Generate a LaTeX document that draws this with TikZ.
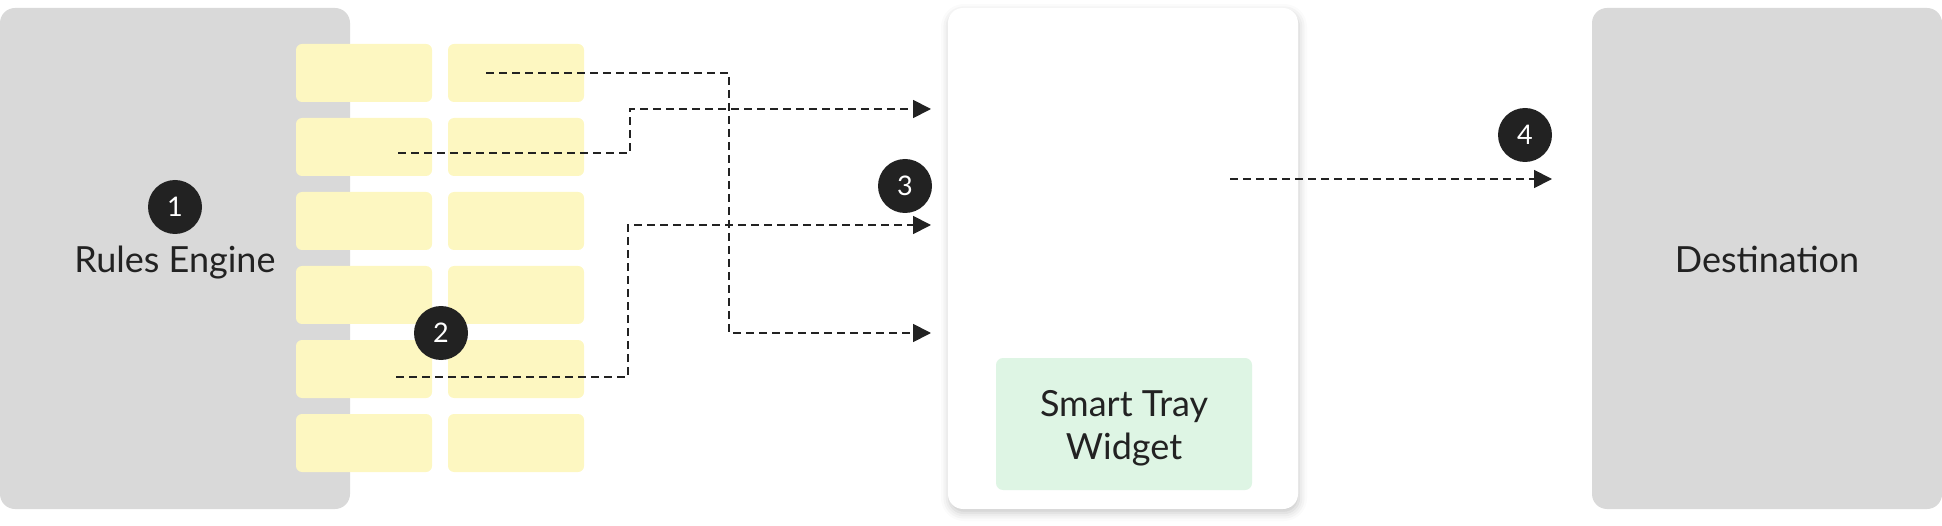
\documentclass[tikz,border=0pt]{standalone}
\usepackage{fontspec}
\setmainfont{Lato}
\usepackage{tikz}
\definecolor{boxgray}{RGB}{217, 217, 217}
\definecolor{cellyellow}{RGB}{253, 247, 193}
\definecolor{traygreen}{RGB}{222, 245, 228}
\definecolor{badgeblack}{RGB}{34, 34, 34}
\definecolor{inkgray}{RGB}{34, 34, 34}
\usetikzlibrary{positioning}
\usetikzlibrary{arrows.meta}
\usetikzlibrary{shadows.blur}

\begin{document}
\begin{tikzpicture}[
  panel/.style={rectangle, rounded corners=15pt, minimum width=350pt, minimum height=501pt, inner sep=0pt},
  cell/.style={rectangle, rounded corners=6pt, fill=cellyellow, minimum width=136pt, minimum height=58pt, inner sep=0pt},
  badge/.style={circle, fill=badgeblack, minimum size=54pt, inner sep=0pt, text=white, font=\fontsize{27pt}{30pt}\selectfont},
  bigtext/.style={text=inkgray, font=\fontsize{36pt}{43pt}\selectfont, inner sep=0pt},
  flow/.style={line width=1.8pt, color=inkgray, dash pattern=on 8pt off 5pt, -{Triangle[length=18pt, width=18pt]}}
]
\useasboundingbox (0pt, 0pt) rectangle (1942pt, -526pt);
% three big panels
\node (rules) [panel, fill=boxgray] at (175pt, -258.5pt) {};
\node (widget) [panel, fill=white, blur shadow={shadow xshift=1pt, shadow yshift=-4pt, shadow blur radius=8pt, shadow opacity=22}] at (1123pt, -258.5pt) {};
\node (dest) [panel, fill=boxgray] at (1767pt, -258.5pt) {};
% rule cells
\foreach \r in {0,...,5} {
  \node (c\r a) [cell] at (364pt, -73pt-74pt*\r) {};
  \node (c\r b) [cell] at (516pt, -73pt-74pt*\r) {};
}
\node (tray) [rectangle, rounded corners=7pt, fill=traygreen, minimum width=256pt, minimum height=132pt] at (1124pt, -424pt) {};
\node (rulestxt) [bigtext, anchor=base] at (175pt, -273pt) {Rules Engine};
\node (desttxt) [bigtext, anchor=base] at (1767pt, -273pt) {Destination};
\node (traytxt) [bigtext, align=center] at (1124pt, -428pt) {Smart Tray\\Widget};
% connectors
\coordinate (sA) at (486pt, -73pt);
\coordinate (sB) at (398pt, -153pt);
\coordinate (sC) at (396pt, -377pt);
\coordinate (sD) at (1230pt, -179pt);
\coordinate (tA) at (931pt, -333pt);
\coordinate (tB) at (931pt, -109pt);
\coordinate (tC) at (931pt, -225pt);
\coordinate (tD) at (1552pt, -179pt);
\draw [flow] (sA) -- ++(243pt, 0pt) |- (tA);
\draw [flow] (sB) -- ++(232pt, 0pt) |- (tB);
\draw [flow] (sC) -- ++(232pt, 0pt) |- (tC);
\draw [flow] (sD) -- (tD);
% step badges
\node (1) [badge] at (175pt, -207pt) {1};
\node (2) [badge] at (441pt, -333pt) {2};
\node (3) [badge] at (905pt, -186pt) {3};
\node (4) [badge] at (1525pt, -135pt) {4};
\end{tikzpicture}
\end{document}
